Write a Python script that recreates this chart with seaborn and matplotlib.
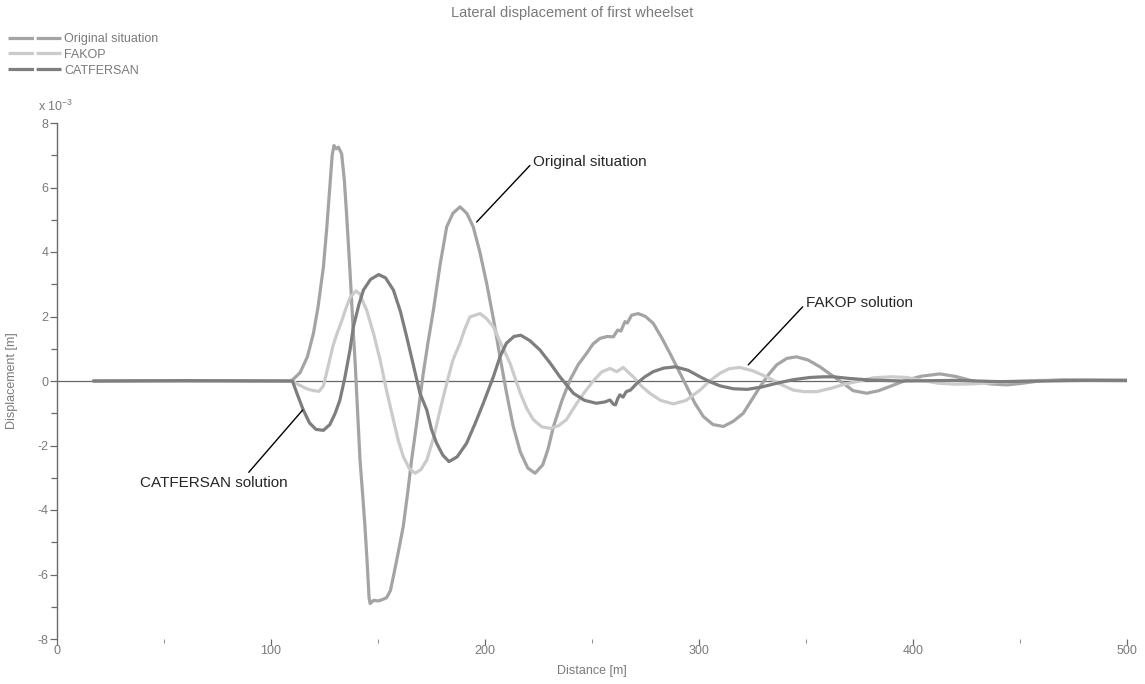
import pandas as pd
import seaborn as sns
import matplotlib.pyplot as plt
from matplotlib.lines import Line2D
from matplotlib.ticker import MultipleLocator

# valores (desplazamiento en 1e-3 m)
dist_orig = [17, 60, 108, 110, 113.6, 117, 119.8, 122, 124.5, 126, 127.6, 128.6, 129.4, 130.5, 131.5,
             133, 134.3, 135.4, 137, 138.5, 139.3, 140.5, 141.6, 142.8, 143.9, 145, 145.8, 146.3, 148,
             150, 152, 154, 155.8, 157.2, 159.5, 161.8, 163.8, 165.7, 168.5, 171.2, 173.5, 175.9, 179,
             182.1, 185, 188.3, 191.5, 194.5, 197.6, 200.8, 204, 207, 210, 213.2, 216.5, 220, 223.4,
             227, 229.5, 232, 236, 239.7, 243.5, 247.5, 250.5, 253.7, 257, 260, 262, 263.5, 265.4,
             266.5, 268.5, 271.6, 275, 278.6, 282.5, 286.4, 290.3, 294.3, 298, 302, 306.5, 311.4, 316,
             320.7, 324.5, 328.5, 332.5, 336.3, 341, 345.6, 351, 356.5, 362, 367.4, 372, 378.4, 384,
             390, 397, 404, 412.6, 420, 428, 436, 444, 451, 459, 470, 480, 500]
disp_orig = [0, 0.01, 0, 0.03, 0.26, 0.75, 1.47, 2.3, 3.54, 4.7, 6.12, 7.0, 7.3, 7.2, 7.25,
             7.05, 6.2, 5.09, 3.3, 1.48, 0.6, -1.0, -2.45, -3.5, -4.5, -5.7, -6.7, -6.9, -6.8,
             -6.82, -6.78, -6.72, -6.5, -6.06, -5.3, -4.51, -3.5, -2.45, -1.1, 0.26, 1.25, 2.2, 3.6,
             4.78, 5.2, 5.4, 5.2, 4.78, 4.0, 3.02, 1.9, 0.75, -0.35, -1.41, -2.2, -2.7, -2.86,
             -2.6, -2.1, -1.41, -0.6, 0.03, 0.5, 0.86, 1.15, 1.32, 1.38, 1.37, 1.58, 1.55, 1.84,
             1.8, 2.04, 2.09, 2.0, 1.79, 1.35, 0.86, 0.35, -0.18, -0.68, -1.1, -1.35, -1.41, -1.25,
             -1.0, -0.6, -0.18, 0.2, 0.5, 0.7, 0.75, 0.65, 0.44, 0.18, -0.07, -0.3, -0.38, -0.3,
             -0.15, 0.03, 0.15, 0.22, 0.14, 0, -0.09, -0.12, -0.07, 0, 0.04, 0.03, 0.02]

dist_fakop = [17, 60, 108, 110, 113, 117, 120, 122.5, 124.5, 126.5, 129, 131, 133, 135, 137, 139.7,
              141.5, 143, 144.7, 148, 151, 154, 157.2, 159.5, 161.8, 164.5, 167.3, 170, 172.8, 176,
              179, 182, 185, 188.3, 190.5, 193, 197.7, 200.5, 203.9, 207.5, 211.7, 216.4, 219.5,
              222.6, 226.5, 230.7, 234.5, 238, 242.9, 246.5, 250.6, 254.5, 258.4, 261.5, 263, 264.6,
              266.5, 269.3, 273, 277, 282, 288, 294, 300.5, 305, 309.8, 314, 319, 325, 331.6, 338,
              344, 349, 355, 362, 368, 375, 381.5, 390, 397, 404, 412, 420, 428, 440, 459, 480, 500]
disp_fakop = [0, 0, 0, 0, -0.12, -0.25, -0.3, -0.32, -0.15, 0.4, 1.1, 1.5, 1.85, 2.25, 2.6, 2.79,
              2.7, 2.45, 2.2, 1.45, 0.65, -0.3, -1.21, -1.85, -2.34, -2.7, -2.86, -2.75, -2.45, -1.75,
              -0.9, -0.1, 0.65, 1.17, 1.6, 1.99, 2.09, 1.95, 1.68, 1.15, 0.55, -0.36, -0.85,
              -1.2, -1.42, -1.47, -1.38, -1.2, -0.69, -0.35, 0, 0.28, 0.39, 0.29, 0.35, 0.42,
              0.3, 0.13, -0.15, -0.38, -0.6, -0.71, -0.6, -0.28, 0.0, 0.24, 0.38, 0.42, 0.32, 0.13, -0.1,
              -0.28, -0.33, -0.33, -0.22, -0.1, 0, 0.1, 0.13, 0.11, 0.02, -0.07, -0.1, -0.09, -0.04, 0.02, 0.02, 0]

dist_cat = [17, 60, 108, 110, 112.5, 115.1, 118, 121, 124.5, 127.5, 130, 132.2, 134.5, 136.9, 138.5,
            141, 143.2, 146.5, 150.3, 153.5, 157.2, 160.5, 163.4, 166.5, 169.6, 172.8, 175, 177.4,
            180.3, 183.2, 187, 191.4, 195.5, 199.2, 203.9, 207, 210, 213.5, 216.7, 221, 225.7, 230.5,
            235, 241.3, 246.5, 252, 256, 258.4, 260, 261, 262, 263, 264.5, 266, 268, 271, 274.5,
            278.6, 283.5, 289, 295, 300.5, 305, 309.8, 316, 322.5, 329, 336.3, 344, 351.9, 358, 363,
            370, 380, 395, 420, 440, 460, 480, 500]
disp_cat = [0, 0.01, 0, 0, -0.45, -0.9, -1.3, -1.5, -1.53, -1.35, -1.0, -0.59, 0.1, 0.96, 1.68,
            2.35, 2.82, 3.15, 3.3, 3.2, 2.82, 2.15, 1.37, 0.5, -0.38, -0.9, -1.5, -1.93,
            -2.3, -2.5, -2.35, -1.93, -1.3, -0.69, 0.13, 0.75, 1.17, 1.38, 1.42, 1.25, 0.96, 0.55,
            0.13, -0.38, -0.6, -0.69, -0.65, -0.59, -0.72, -0.74, -0.55, -0.43, -0.5, -0.33, -0.28, -0.07, 0.12,
            0.29, 0.4, 0.44, 0.33, 0.13, -0.02, -0.15, -0.24, -0.26, -0.19, -0.07, 0.04, 0.11, 0.13, 0.13,
            0.08, 0.03, 0.0, 0.02, -0.02, 0.0, 0.02, 0.02]

series_names = ["Original situation", "FAKOP", "CATFERSAN"]
colores = {"Original situation": "#a4a4a4", "FAKOP": "#cbcbcb", "CATFERSAN": "#7e7e7e"}
gris_texto = "#7a7a7a"

df = pd.concat([
    pd.DataFrame({"distance": dist_orig, "disp": disp_orig, "series": "Original situation"}),
    pd.DataFrame({"distance": dist_fakop, "disp": disp_fakop, "series": "FAKOP"}),
    pd.DataFrame({"distance": dist_cat, "disp": disp_cat, "series": "CATFERSAN"}),
], ignore_index=True)

sns.set_style("white")
plt.rcParams['font.family'] = ['Liberation Sans', 'DejaVu Sans']
plt.rcParams['mathtext.fontset'] = 'custom'
plt.rcParams['mathtext.rm'] = 'Liberation Sans'
plt.rcParams['axes.unicode_minus'] = False

fig = plt.figure(figsize=(11.45, 6.84), dpi=100)
ax = fig.add_axes([57 / 1145, 45 / 684, 1070 / 1145, 516 / 684])

ax.axhline(0, color="#666666", lw=0.9, zorder=1)
sns.lineplot(data=df, x="distance", y="disp", hue="series", hue_order=series_names,
             palette=colores, estimator=None, sort=False, lw=2.3, legend=False, ax=ax, zorder=2)

ax.set_xlim(0, 500)
ax.set_ylim(-8, 8)
ax.xaxis.set_major_locator(MultipleLocator(100))
ax.xaxis.set_minor_locator(MultipleLocator(50))
ax.yaxis.set_major_locator(MultipleLocator(2))
ax.yaxis.set_minor_locator(MultipleLocator(1))
for s in ["top", "right", "bottom"]:
    ax.spines[s].set_visible(False)
ax.spines["left"].set_color("#6a6a6a")
ax.spines["left"].set_linewidth(1)
ax.tick_params(axis="both", which="both", direction="out", color="#6a6a6a", width=0.9,
               labelcolor=gris_texto, labelsize=9, left=True, bottom=True)
ax.tick_params(axis="x", which="major", length=4, pad=0)
ax.tick_params(axis="x", which="minor", length=3, width=0.7, color="#8a8a8a")
ax.tick_params(axis="y", which="major", length=5, pad=1)
ax.tick_params(axis="y", which="minor", length=4)

ax.set_xlabel("Distance [m]", color=gris_texto, fontsize=9)
ax.set_ylabel("Displacement [m]", color=gris_texto, fontsize=9)
ax.xaxis.set_label_coords(0.5, -0.05)
ax.yaxis.set_label_coords(-0.036, 0.5)

fig.text(0.5, 1 - 13 / 684, "Lateral displacement of first wheelset", ha="center", va="center",
         color=gris_texto, fontsize=10.5)
fig.text(38 / 1145, 1 - 106 / 684, "x 10$^{-3}$", ha="left", va="center", color=gris_texto, fontsize=9)

# anotaciones
flecha = dict(arrowstyle="-", color="black", lw=1, shrinkA=0, shrinkB=0)
ax.annotate("Original situation", xy=(196.1, 4.93), xytext=(222.5, 6.79), ha="left", va="center",
            fontsize=11, arrowprops=dict(flecha, relpos=(0, 0.5)))
ax.annotate("FAKOP solution", xy=(323, 0.5), xytext=(350, 2.41), ha="left", va="center",
            fontsize=11, arrowprops=dict(flecha, relpos=(0, 0.5)))
ax.annotate("CATFERSAN solution", xy=(114.8, -0.9), xytext=(73.1, -3.15), ha="center", va="center",
            fontsize=11, arrowprops=dict(flecha, relpos=(0.72, 1)))

handles = [Line2D([0], [0], color=colores[n], lw=2.3, dashes=(8, 0.8)) for n in series_names]
fig.legend(handles, series_names, loc="upper left", bbox_to_anchor=(8 / 1145, 1 - 33 / 684),
           frameon=False, fontsize=9, labelcolor=gris_texto, handlelength=4.2, handletextpad=0.3,
           labelspacing=0.3, borderpad=0, borderaxespad=0)

fig.savefig("out.png", dpi=100)
